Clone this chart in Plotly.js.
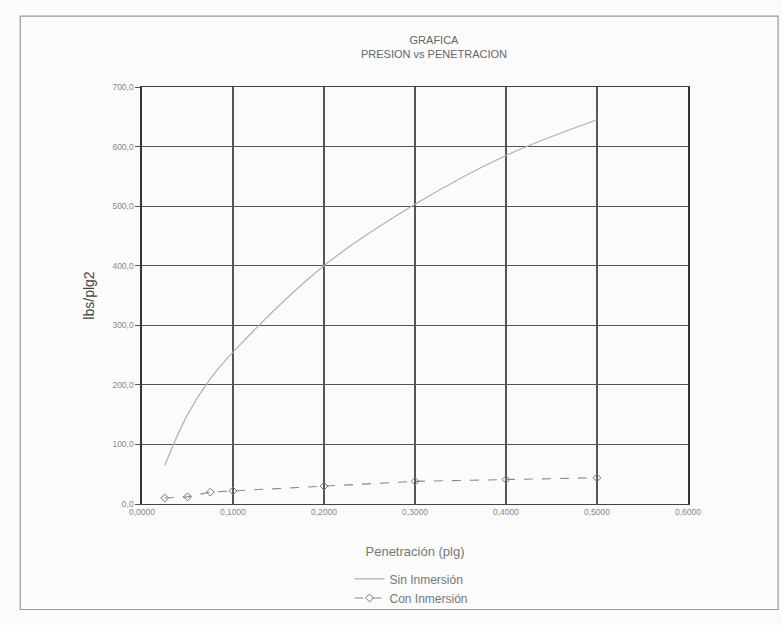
<!DOCTYPE html>
<html>
<head>
<meta charset="utf-8">
<script src="https://cdn.plot.ly/plotly-3.0.1.min.js"></script>
<style>html,body{margin:0;padding:0;background:#fbfbfb;}#chart{width:782px;height:625px;}</style>
</head>
<body>
<div id="chart"></div>
<script>
// Penetración (plg)
const penetracion = [0.025, 0.05, 0.075, 0.1, 0.2, 0.3, 0.4, 0.5];
// Presión (lbs/plg2)
const sinInmersion = [65, 150, 210, 255, 400, 503, 585, 645];
const conInmersion = [10, 12, 20, 22, 30, 38, 41, 44];
const xTicks = [0, 0.1, 0.2, 0.3, 0.4, 0.5, 0.6];
const yTicks = [0, 100, 200, 300, 400, 500, 600, 700];

const traces = [
  {
    x: penetracion, y: sinInmersion, name: 'Sin Inmersión', type: 'scatter', mode: 'lines',
    line: {color: '#b0b0b0', width: 1.2, shape: 'spline'}
  },
  {
    x: penetracion, y: conInmersion, name: 'Con Inmersión', type: 'scatter', mode: 'lines+markers',
    line: {color: '#8a8a8a', width: 1.1, dash: 'dash'},
    marker: {symbol: 'diamond-open', size: 6, color: '#777', line: {width: 1}}
  }
];

const layout = {
  width: 782, height: 625,
  paper_bgcolor: '#fbfbfb', plot_bgcolor: '#fbfbfb',
  separators: ',.',
  margin: {l: 142, r: 94, t: 87, b: 119},
  font: {family: 'Liberation Sans, Arial, sans-serif', color: '#777'},
  title: {
    text: 'GRAFICA<br>PRESION vs PENETRACION',
    font: {size: 11, color: '#666'},
    x: 0.555, xanchor: 'center', y: 0.93, yanchor: 'top'
  },
  xaxis: {
    range: [0, 0.6], tickvals: xTicks, tickformat: '.4f',
    showgrid: true, gridcolor: '#555', gridwidth: 1.2,
    showline: true, linecolor: '#444', linewidth: 1.2, mirror: true,
    zeroline: false, ticks: '', tickfont: {size: 8.5, color: '#888'},
    title: {text: 'Penetración (plg)', font: {size: 13, color: '#777'}, standoff: 30}
  },
  yaxis: {
    range: [0, 700], tickvals: yTicks, tickformat: '.1f',
    showgrid: true, gridcolor: '#555', gridwidth: 1.2,
    showline: true, linecolor: '#333', linewidth: 1.6, mirror: true,
    zeroline: false, ticks: 'outside', ticklen: 5, tickcolor: '#555',
    tickfont: {size: 8.5, color: '#888'},
    title: {text: 'lbs/plg2', font: {size: 14, color: '#444'}, standoff: 14}
  },
  showlegend: true,
  legend: {
    x: 0.38, xanchor: 'left', y: -0.145, yanchor: 'top',
    orientation: 'v', bgcolor: 'rgba(0,0,0,0)',
    font: {size: 12, color: '#777'}, tracegroupgap: 0
  },
  shapes: [
    {type: 'rect', xref: 'paper', yref: 'paper',
     x0: -0.223, x1: 1.165, y0: -0.253, y1: 1.17,
     line: {color: '#999', width: 1.2}, fillcolor: 'rgba(0,0,0,0)'}
  ]
};

Plotly.newPlot('chart', traces, layout, {displayModeBar: false, staticPlot: true});
</script>
</body>
</html>
